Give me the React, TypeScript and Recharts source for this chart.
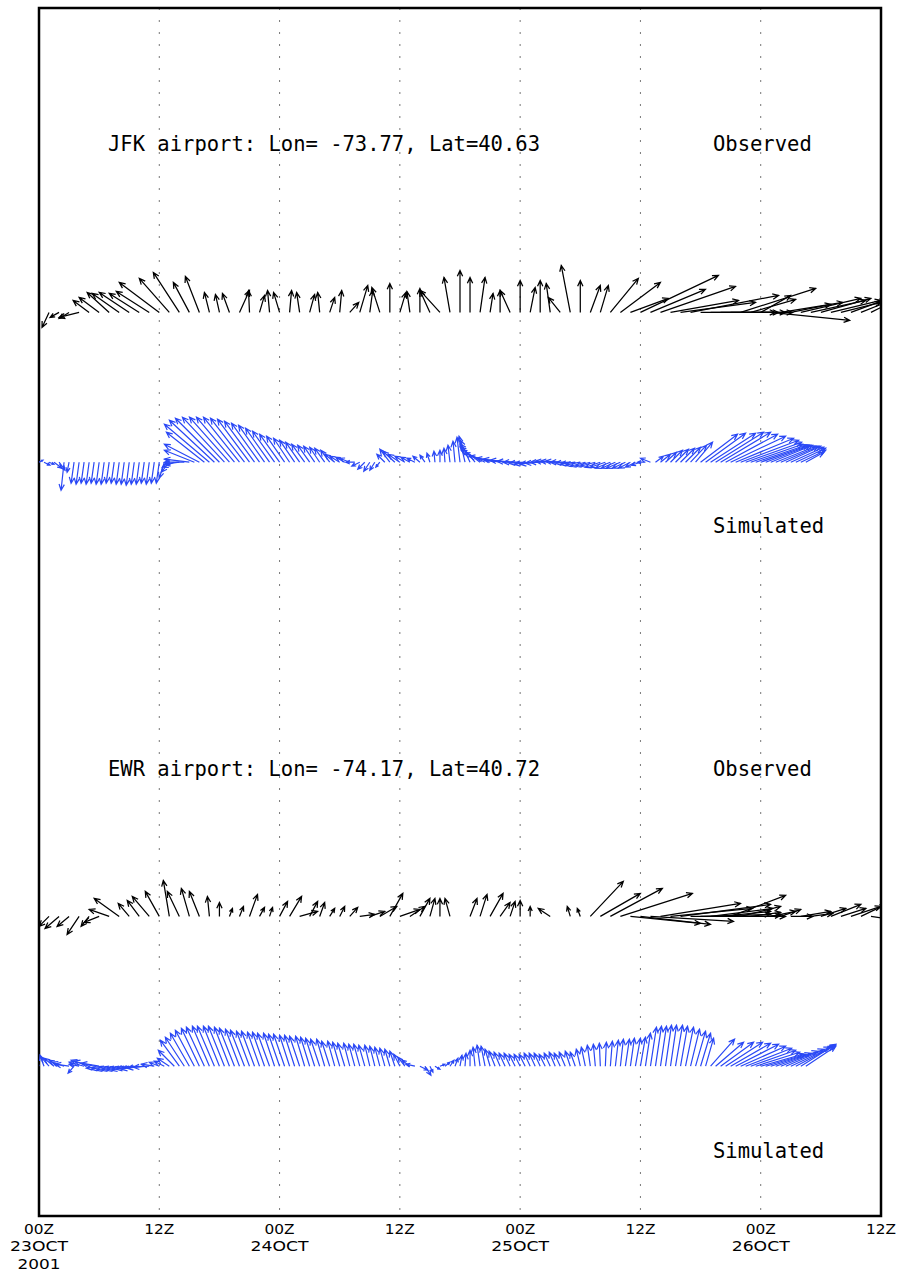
import React from 'react';
import {
  ScatterChart,
  Scatter,
  XAxis,
  YAxis,
  CartesianGrid,
  ReferenceArea,
  Customized,
} from 'recharts';

// time axis: hours after 00Z 23 Oct 2001
const HOURS = [0, 12, 24, 36, 48, 60, 72, 84];
const HOUR_LABELS = ['00Z', '12Z', '00Z', '12Z', '00Z', '12Z', '00Z', '12Z'];
const DAY_LABELS = ['23OCT', '', '24OCT', '', '25OCT', '', '26OCT', ''];
const YEAR_LABELS = ['2001', '', '', '', '', '', '', ''];

// row levels of the four vector strips (y axis 0..100)
const JFK_OBS_LEVEL = 74.8;
const JFK_SIM_LEVEL = 62.4;
const EWR_OBS_LEVEL = 24.8;
const EWR_SIM_LEVEL = 12.4;

// observed wind, hourly, u / v in knots (null = missing report)
const jfkObsU = [
  -2, -3.5, -4.5, -5, -10, -8, -10, -11, -13.5, -15, -15, -16.5,
  -20, -15, -13, -8, -7, -2.5, -2, -3.5, 5, -0.5, 2.5, -1,
  -3, 1, -1.5, 2.5, -1, 2.5, 1, 4.5, 4, 1.5, -4, 0,
  3, -1.5, 0, -5, -10, -3, 0, 0, 2.5, 1.5, 0, -5,
  0, 2.5, 0, -2, -6, -4.5, 0, 5, 4, 14, 20, 19,
  39, 27.5, 37.5, 34, 37.5, 44, 46, 37.5, 29, 22.5, 37.5, 22.5,
  15, 39.5, 31, 20, 30, 27.5, 25, 25, 20, 17.5, 15, 10,
  5,
];
const jfkObsV = [
  -4, -7.5, -2.5, -3, -2.5, 6, 7.5, 10, 9.5, 10, 9.5, 10.5,
  15, 17, 20, 15, 18, 10, 9, 9.5, 11, 11, 8.5, 11,
  10, 11, 10, 9, 10, 7.5, 11, 5, 13.5, 11, 12.5, 14.5,
  10, 10.5, 12, 11, 11, 17.5, 21, 17.5, 17.5, 9.5, 11, 11,
  16, 12.5, 16, 14.5, 7.5, 23.5, 16, 13.5, 13.5, 17, 15, 7,
  18.5, 11.5, 13, 6, 5, 8.5, 0, 0, 0, 0, 12, 6.5,
  8.5, -4, 5, 4, 7, 6, 7, 6, 5, 6.5, 6, 5,
  2.5,
];
const ewrObsU = [
  -2, -5, -7, -6, -6, -4, -7.5, -10, -12.5, -5.5, -6, -8.5,
  -7, -3, -6, -4, -5, -1, 0, 1.5, 2, 4, 2.5, 1.5,
  4, 6, 9, 4, 2.5, 2.5, 2.5, 4, 7.5, 7.5, 8.5, 6.5,
  10, 7.5, 5, 2.5, 0, -2.5, null, 3.5, 3.5, 6.5, 5, 2.5,
  0, 0, null, -6, null, -1.5, -1.5, 16.5, 20, 26, 36, 35,
  35, 41.5, 40, 41, 45, 47.5, 35, 31, 25, 27.5, 20, 15,
  10, 12.5, 10, 11, 15, 11, 12.5, 15, 12.5, 15, 12.5, 10,
  2.5,
];
const ewrObsV = [
  -3, -5, -6, -5, -9, -5, -3, 3.5, 9, 6.5, 8, 10,
  12.5, 18, 12.5, 14, 12.5, 10, 7, 4, 5, 11, 4.5, 4.5,
  7.5, 10, 2.5, 7.5, 7, 4, 5, 4.5, 1, 2.5, 5, 11.5,
  3.5, 5, 9, 9, 9, 9, null, 9, 11, 11.5, 7, 7.5,
  8, 5, null, 4, null, 5, 4, 17.5, 11.5, 14, 11.5, -3.5,
  -4, -2.5, 6.5, 4, 6, 0, 1, 4, 2.5, 10.5, 5, 2,
  0.5, 2.5, 3.5, 0, 2.5, 1.5, 4, 6, 4, 5, 6, -1.5,
  1.5,
];

// simulated wind, every 30 minutes, u / v in knots
const jfkSimU = [
  2, 3, 2.5, 4, 3, -1.5, -1, -1.5, -1.5, -1.5, -1.5, -1.5,
  -1.5, -1.5, -1.5, -1.5, -1.5, -1.5, -1.5, -1.5, -1.5, -1.5, -1.5, -1.5,
  -1.5, -2.5, -4, -6, -7.5, -10, -12.5, -15, -17.5, -19, -22.5, -22.5,
  -22, -21, -20, -19, -18, -17, -16, -15, -14, -13, -12, -11,
  -10, -9, -8, -7.5, -7, -6.5, -6, -5.5, -5, -5, -4.5, -5,
  -5, -4.5, -5, -4.5, -4, -3.5, -3, -2.5, -2, -4, -5, -6,
  -6, -5, -4.5, -4, -3.5, -2.5, -1.5, -0.5, 0, -0.5, -1, -1,
  -1.5, -3, -5, -7.5, -10, -12, -13, -13, -12, -11, -10, -9,
  -8.5, -8, -8, -7.5, -7.5, -7.5, -7.5, -7.5, -7.5, -7.5, -7.5, -7.5,
  -7.5, -7.5, -7.5, -7.5, -7.5, -7.5, -7.5, -7, -7, -6.5, -6, -5,
  -4.5, -4, -5, 4, 5, 5.5, 6, 6.5, 7, 7.5, 8, 8.5,
  18.5, 20, 22.5, 24, 25, 26, 27.5, 29, 29, 28, 26, 25,
  24, 22.5, 21, 20, 19, 17.5, 16.5, 15, 12.5, 9,
];
const jfkSimV = [
  1, -1.5, -1, -3, -4, -14, -5, -10.5, -11, -10.5, -11, -10.5,
  -11, -11, -10.5, -10.5, -11, -11, -11.5, -11, -11, -10.5, -11, -10.5,
  -10.5, -8, -5, -2.5, -1, 0, 1.5, 6, 9, 15, 19, 21,
  22, 22.5, 22.5, 22.5, 22.5, 22, 21.5, 20.5, 19.5, 18.5, 17, 15.5,
  14, 13, 12, 11, 10, 9, 8.5, 8, 7.5, 7, 6, 4,
  3, 2.5, 2, 0, -2, -3.5, -4.5, -4, -2.5, 4, 6.5, 5.5,
  4, 3, 2.5, 2, 3, 3.5, 4.5, 5.5, 6, 7, 8.5, 10.5,
  12.5, 13, 11, 9, 7.5, 6, 4.5, 3, 2, 1.5, 1, 0.5,
  0, -0.5, -1, -1, -0.5, 0, 0.5, 0.5, 0.5, 0, -0.5, -1,
  -1.5, -2, -2, -2, -2.5, -2.5, -3, -3, -3, -3, -3, -2.5,
  -1.5, 0, 2, 3, 4, 5, 6, 6.5, 7, 7.5, 8.5, 10,
  14, 14.5, 14.5, 15, 15, 14, 13, 12, 11, 10, 9, 8.5,
  8.5, 8.5, 8.5, 8, 8, 8, 7.5, 7, 6, 5,
];
const ewrSimU = [
  -1.5, -2, -4, -5, -5, -6, -7, -3, -5, -7.5, -9, -10,
  -9, -9, -9, -9, -9, -9, -9, -9, -9, -8.5, -8, -6.5,
  -5, -5, -6, -8, -9.5, -9.5, -9.5, -9.5, -9, -9, -8.5, -8.5,
  -8, -8, -7.5, -7.5, -7, -7, -6.5, -6.5, -6, -6, -6, -5.5,
  -5.5, -5.5, -5, -5, -5, -4.5, -4.5, -4.5, -4.5, -4, -4, -3.5,
  -3.5, -3.5, -3, -3, -3, -3, -2.5, -2.5, -2.5, -2.5, -2.5, -2.5,
  -3, -3.5, -4, -4.5, 4, 3, 1.5, 2.5, 2.5, 2.5, 2, 1.5,
  1, 0.5, 0, -1, -1.5, -2, -2.5, -3, -3, -3, -3, -3,
  -3, -3, -3, -3, -3, -3, -3, -3, -3, -3, -2.5, -2.5,
  -2, -2, -1.5, -1, -0.5, 0.5, 1, 1.5, 1.5, 2, 2, 2.5,
  2.5, 2.5, 3, 3, 3, 3, 3, 3.5, 3.5, 4, 4.5, 5,
  5, 4, 12, 14, 16.5, 18.5, 20, 21.5, 22.5, 23, 22.5, 22,
  21, 20, 20, 21, 21.5, 22, 21.5, 20, 17.5, 15,
];
const ewrSimV = [
  5, 5.5, 4.5, 4, 3, 2, 1, -3.5, 1, 2, 3, 2.5,
  1.5, -1, -1.5, -2, -2, -2, -2, -1.5, -1.5, -1, -0.5, 1,
  2, 2.5, 4, 8, 13, 14.5, 16.5, 18, 19, 19.5, 20, 20,
  20, 20, 19.5, 19, 18.5, 18, 17.5, 17.5, 17, 17, 16.5, 16.5,
  16, 16, 15.5, 15.5, 15, 15, 14.5, 14, 13.5, 13.5, 12.5, 12.5,
  12, 11.5, 11.5, 11, 11, 10.5, 10.5, 10, 9.5, 9, 8.5, 7.5,
  6, 4.5, 3, 1, -2, -4.5, -3, -1.5, 1, 2, 3, 4,
  5.5, 6.5, 8, 9.5, 10.5, 10, 8.5, 7.5, 7, 6.5, 6.5, 6,
  6, 6, 6.5, 6.5, 6.5, 6, 6.5, 7, 6.5, 7, 7.5, 7,
  8.5, 9.5, 10.5, 11, 11.5, 12, 12.5, 13, 13.5, 13.5, 14, 14,
  14.5, 16.5, 19.5, 20, 20, 20.5, 20.5, 20.5, 20, 19.5, 18.5, 17.5,
  16.5, 14, 13.5, 12, 12, 12, 11.5, 11, 10, 9, 8, 7,
  6, 6, 6.5, 7.5, 8.5, 9.5, 10, 10.5, 11, 10,
];

const SCALE = 2; // px per knot
const HEAD = 6.5;
const BLUE = '#2a48f5';
const FONT = '"DejaVu Sans Mono", monospace';
const CLIP_ID = 'vector-plot-clip';

function toPoints(u: (number | null)[], v: (number | null)[], step: number, level: number) {
  return u
    .map((uu, i) => ({ t: i * step, y: level, u: uu, v: v[i] }))
    .filter((p) => p.u != null && p.v != null);
}

const jfkObs = toPoints(jfkObsU, jfkObsV, 1, JFK_OBS_LEVEL);
const jfkSim = toPoints(jfkSimU, jfkSimV, 0.5, JFK_SIM_LEVEL);
const ewrObs = toPoints(ewrObsU, ewrObsV, 1, EWR_OBS_LEVEL);
const ewrSim = toPoints(ewrSimU, ewrSimV, 0.5, EWR_SIM_LEVEL);

function Arrow({ cx, cy, payload, color, width }: any) {
  if (cx == null || cy == null || !payload) return <g />;
  const dx = payload.u * SCALE;
  const dy = -payload.v * SCALE;
  const len = Math.hypot(dx, dy);
  if (len < 1) return <g />;
  const x2 = cx + dx;
  const y2 = cy + dy;
  const a = Math.atan2(dy, dx);
  const h = Math.min(HEAD, len * 0.5);
  const s = 0.42;
  const ax = x2 - h * Math.cos(a - s);
  const ay = y2 - h * Math.sin(a - s);
  const bx = x2 - h * Math.cos(a + s);
  const by = y2 - h * Math.sin(a + s);
  return (
    <path
      d={`M${cx},${cy}L${x2},${y2}M${ax},${ay}L${x2},${y2}L${bx},${by}`}
      stroke={color}
      strokeWidth={width}
      fill="none"
      clipPath={`url(#${CLIP_ID})`}
    />
  );
}

function TimeTick({ x, y, payload }: any) {
  const i = HOURS.indexOf(payload.value);
  const style = { fontFamily: '"DejaVu Sans", sans-serif', fontSize: 14, fill: '#000' };
  return (
    <g>
      <text x={x} y={y + 10} textAnchor="middle" style={style} textLength={30} lengthAdjust="spacingAndGlyphs">
        {HOUR_LABELS[i]}
      </text>
      {DAY_LABELS[i] && (
        <text x={x} y={y + 27} textAnchor="middle" style={style} textLength={58} lengthAdjust="spacingAndGlyphs">
          {DAY_LABELS[i]}
        </text>
      )}
      {YEAR_LABELS[i] && (
        <text x={x} y={y + 45} textAnchor="middle" style={style} textLength={43} lengthAdjust="spacingAndGlyphs">
          {YEAR_LABELS[i]}
        </text>
      )}
    </g>
  );
}

// station titles and strip captions, plus the clip region for the vectors
function PanelLabels() {
  const st = { fontFamily: FONT, fontSize: 20.5, fill: '#000' };
  return (
    <g>
      <defs>
        <clipPath id={CLIP_ID}>
          <rect x={39} y={8} width={842} height={1208} />
        </clipPath>
      </defs>
      <text x={108} y={151} style={st}>JFK airport: Lon= -73.77, Lat=40.63</text>
      <text x={713} y={151} style={st}>Observed</text>
      <text x={713} y={533} style={st}>Simulated</text>
      <text x={108} y={776} style={st}>EWR airport: Lon= -74.17, Lat=40.72</text>
      <text x={713} y={776} style={st}>Observed</text>
      <text x={713} y={1158} style={st}>Simulated</text>
    </g>
  );
}

export default function App() {
  return (
    <div style={{ position: 'absolute', left: 0, top: 0, width: 903, height: 1286, background: '#fff' }}>
      <ScatterChart width={903} height={1286} margin={{ top: 8, right: 22, bottom: 0, left: 39 }}>
        <CartesianGrid horizontal={false} stroke="#777" strokeDasharray="2 10" />
        <XAxis
          type="number"
          dataKey="t"
          domain={[0, 84]}
          ticks={HOURS}
          interval={0}
          height={70}
          axisLine={false}
          tickLine={false}
          tick={<TimeTick />}
        />
        <YAxis type="number" dataKey="y" domain={[0, 100]} hide width={0} />
        <Scatter data={jfkObs} isAnimationActive={false} shape={(p: any) => <Arrow {...p} color="#000" width={1.25} />} />
        <Scatter data={jfkSim} isAnimationActive={false} shape={(p: any) => <Arrow {...p} color={BLUE} width={1.2} />} />
        <Scatter data={ewrObs} isAnimationActive={false} shape={(p: any) => <Arrow {...p} color="#000" width={1.25} />} />
        <Scatter data={ewrSim} isAnimationActive={false} shape={(p: any) => <Arrow {...p} color={BLUE} width={1.2} />} />
        <ReferenceArea x1={0} x2={84} y1={0} y2={100} fill="none" fillOpacity={0} stroke="#000" strokeWidth={2.5} />
        <Customized component={PanelLabels} />
      </ScatterChart>
    </div>
  );
}
